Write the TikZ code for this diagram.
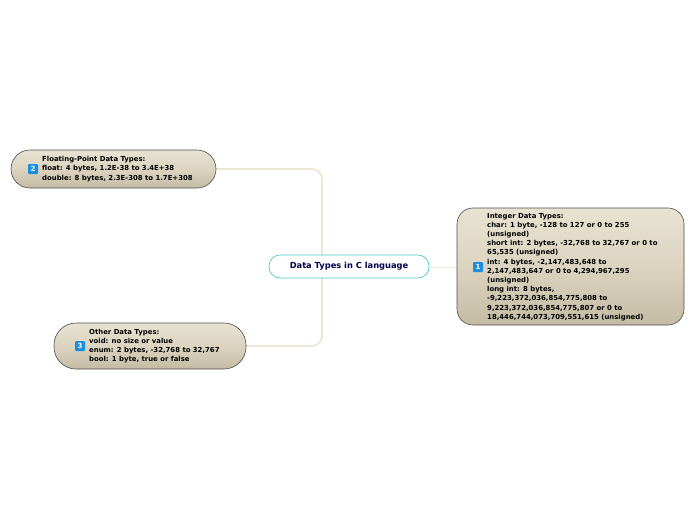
\documentclass[tikz,border=0pt]{standalone}
\usepackage{fontspec}
\setmainfont{DejaVu Sans}
\definecolor{ftop}{HTML}{E8E2D2}
\definecolor{fmid}{HTML}{DCD4C0}
\definecolor{fbot}{HTML}{C4BBA4}
\definecolor{trk}{HTML}{EDE6D2}
\definecolor{bdg}{HTML}{1C8EE0}
\begin{document}
\begin{tikzpicture}[x=1pt,y=-1pt,
  topic/.style={draw=black!70,line width=0.6pt,top color=ftop,bottom color=fbot,middle color=fmid},
  txt/.style={align=left,anchor=west,font=\fontsize{6.9}{9.2}\selectfont\bfseries,inner sep=0pt},
  badge/.style={fill=bdg,rounded corners=1pt,text=white,font=\fontsize{7}{7}\selectfont\bfseries,minimum size=10pt,inner sep=0pt},
  conn/.style={draw=trk,line width=0.8pt},
  trunk/.style={draw=trk,line width=1.8pt,rounded corners=10pt}]
\useasboundingbox (0,0) rectangle (696,520);
% connectors
\coordinate (jt) at (322,169);
\coordinate (jb) at (322,346);
\draw[trunk] (216,169) -- (jt) -- (jb) -- (246,346);
\draw[conn] (429,267) -- (457,267);
% center
\node[draw=teal!60!cyan!70,line width=0.7pt,fill=white,rounded corners=11pt,minimum width=160pt,minimum height=23pt,text=blue!30!black,font=\fontsize{8.3}{10}\selectfont\bfseries] (c) at (349,266.5) {Data Types in C language};
% integer
\path[topic,rounded corners=16pt] (457,208) rectangle (684,325);
\node[badge] (b1) at (478,267) {1};
\node[txt] (t1) at (487,267) {Integer Data Types:\\char: 1 byte, -128 to 127 or 0 to 255\\(unsigned)\\short int: 2 bytes, -32,768 to 32,767 or 0 to\\65,535 (unsigned)\\int: 4 bytes, -2,147,483,648 to\\2,147,483,647 or 0 to 4,294,967,295\\(unsigned)\\long int: 8 bytes,\\-9,223,372,036,854,775,808 to\\9,223,372,036,854,775,807 or 0 to\\18,446,744,073,709,551,615 (unsigned)};
% float
\path[topic,rounded corners=19pt] (11,150) rectangle (216,188);
\node[badge] (b2) at (33,169) {2};
\node[txt] (t2) at (42,169) {Floating-Point Data Types:\\float: 4 bytes, 1.2E-38 to 3.4E+38\\double: 8 bytes, 2.3E-308 to 1.7E+308};
% other
\path[topic,rounded corners=22pt] (54,323) rectangle (246,369);
\node[badge] (b3) at (80,346) {3};
\node[txt] (t3) at (89,346) {Other Data Types:\\void: no size or value\\enum: 2 bytes, -32,768 to 32,767\\bool: 1 byte, true or false};
\end{tikzpicture}
\end{document}
